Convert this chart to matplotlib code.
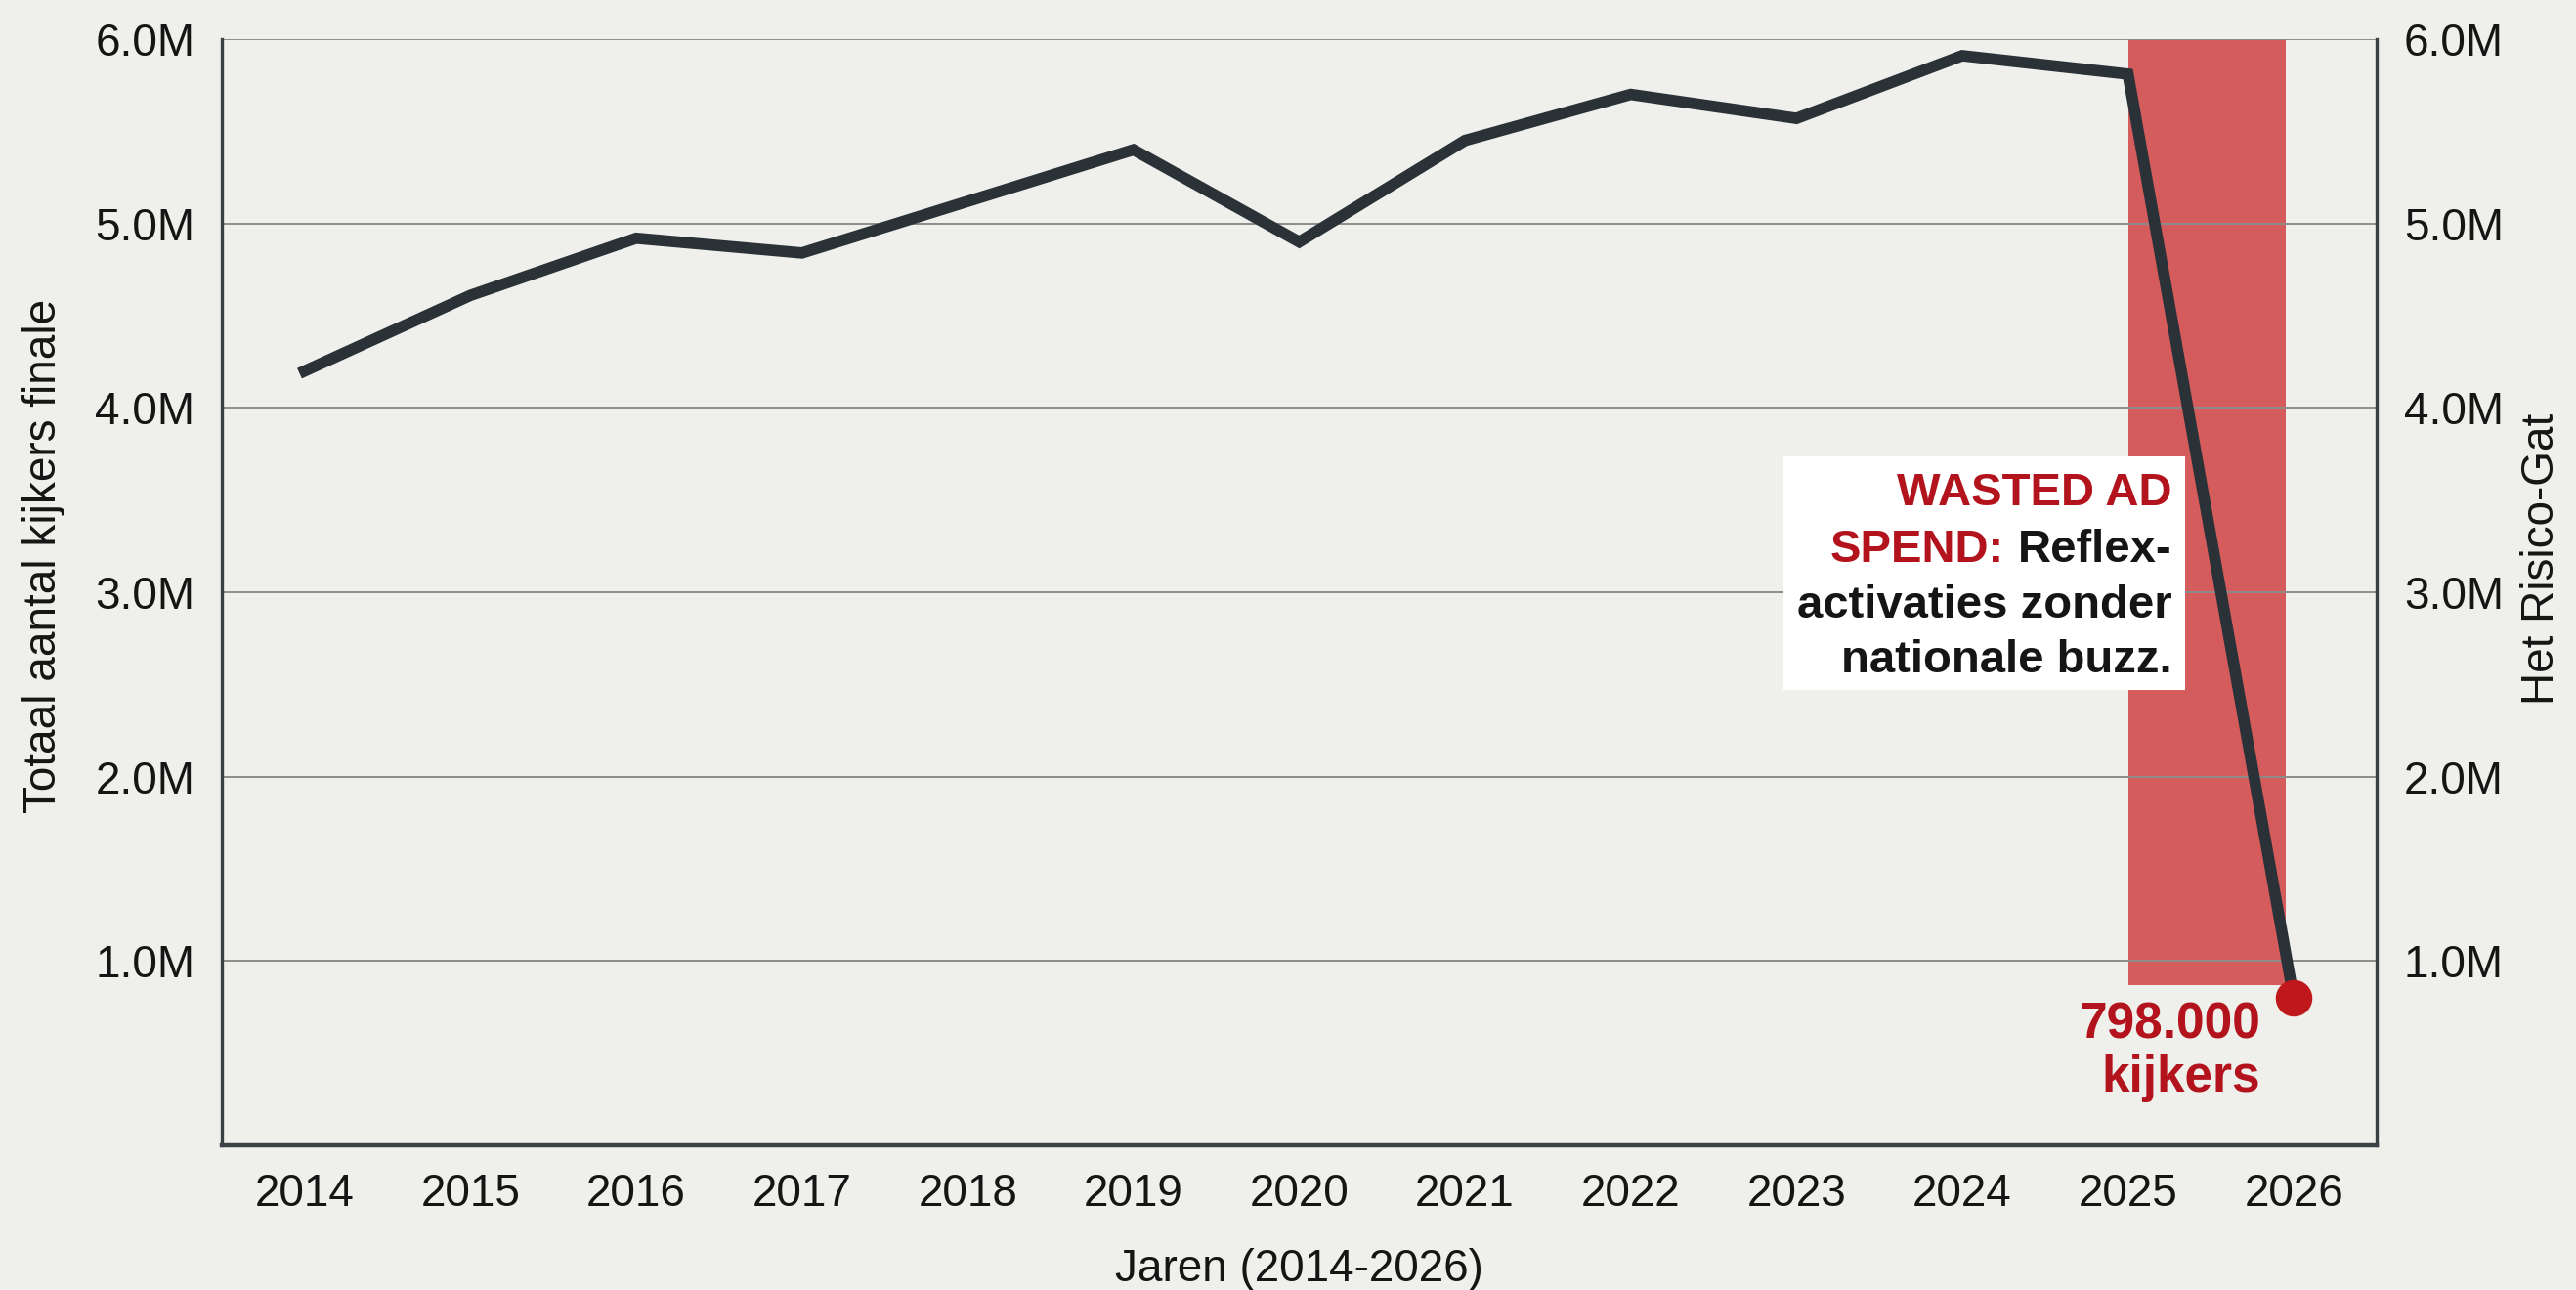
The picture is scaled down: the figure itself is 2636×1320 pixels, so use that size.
import matplotlib.pyplot as plt
from matplotlib.patches import Rectangle
from matplotlib.transforms import Bbox

plt.rcParams['font.family'] = ['Liberation Sans', 'DejaVu Sans']

# === Data (kijkers in miljoenen) ===
jaren = [2014, 2015, 2016, 2017, 2018, 2019, 2020, 2021, 2022, 2023, 2024, 2025, 2026]
kijkers = [4.20, 4.61, 4.92, 4.84, 5.12, 5.40, 4.90, 5.45, 5.70, 5.57, 5.91, 5.81, 0.798]

y_ticks = [1, 2, 3, 4, 5, 6]
y_labels = ['1.0M', '2.0M', '3.0M', '4.0M', '5.0M', '6.0M']

# risico-gat (rode band)
gat_x = [2025, 2025.95]
gat_onder = 0.87
gat_boven = 6.0

# === Kleuren ===
bg = '#eff0eb'
lijn_kleur = '#2a3238'
rood = '#b3131c'
band_kleur = '#ce373a'
tekst = '#151515'

fig = plt.figure(figsize=(13.18, 6.6), dpi=200, facecolor=bg)
ax = fig.add_axes([0.0861, 0.1121, 0.8365, 0.8576])
ax.set_facecolor(bg)

# rode band
ax.fill_between(gat_x, gat_onder, gat_boven, color=band_kleur, alpha=0.8, lw=0, zorder=1)

# lijn + eindpunt
ax.plot(jaren, kijkers, color=lijn_kleur, lw=4.2, solid_joinstyle='miter', zorder=4)
ax.plot(jaren[-1], kijkers[-1], 'o', ms=12.5, color='#c0171d', zorder=6)

ax.set_xlim(2013.5, 2026.5)
ax.set_ylim(0, 6)
ax.set_xticks(jaren)
ax.set_xticklabels([str(j) for j in jaren])
ax.set_yticks(y_ticks)
ax.set_yticklabels(y_labels)
ax.grid(axis='y', color='#8c8c8c', lw=0.7)
ax.tick_params(length=0, pad=10, labelsize=16.5, labelcolor=tekst)

for s in ['top', 'right']:
    ax.spines[s].set_visible(False)
ax.spines['left'].set_color('#3a4046')
ax.spines['left'].set_linewidth(1.2)
ax.spines['bottom'].set_color('#3a4046')
ax.spines['bottom'].set_linewidth(1.6)

ax.set_xlabel('Jaren (2014-2026)', fontsize=16.5, color=tekst)
ax.xaxis.set_label_coords(0.5, -0.093)
ax.set_ylabel('Totaal aantal kijkers finale', fontsize=16.5, color=tekst)
ax.yaxis.set_label_coords(-0.0726, 0.533)

# rechter as
ax2 = ax.twinx()
ax2.set_ylim(0, 6)
ax2.set_yticks(y_ticks)
ax2.set_yticklabels(y_labels)
ax2.tick_params(length=0, pad=10, labelsize=16.5, labelcolor=tekst)
for s in ['top', 'left', 'bottom']:
    ax2.spines[s].set_visible(False)
ax2.spines['right'].set_color('#3a4046')
ax2.spines['right'].set_linewidth(1.2)
ax2.set_ylabel('Het Risico-Gat', fontsize=16.5, color=tekst)
ax2.yaxis.set_label_coords(1.0667, 0.53)

# === Annotatie ===
tx = 2025.265
kw = dict(fontsize=17, fontweight='bold', ha='right', va='baseline', zorder=8)
t1 = ax.text(tx, 3.471, 'WASTED AD', color=rood, **kw)
t2 = ax.text(tx, 3.164, 'Reflex-', color=tekst, **kw)
t2b = ax.annotate('SPEND:', xy=(0, 0), xycoords=t2, xytext=(-5, 0),
                  textcoords='offset points', ha='right', va='bottom',
                  color=rood, fontsize=17, fontweight='bold', zorder=8)
t3 = ax.text(tx, 2.862, 'activaties zonder', color=tekst, **kw)
t4 = ax.text(tx, 2.565, 'nationale buzz.', color=tekst, **kw)

# witte achtergrond achter de tekst
fig.canvas.draw()
r = fig.canvas.get_renderer()
bb = Bbox.union([t.get_window_extent(r) for t in [t1, t2, t2b, t3, t4]])
inv = ax.transData.inverted()
(x0, y0) = inv.transform((bb.x0 - 14, bb.y0 - 8))
(x1, y1) = inv.transform((bb.x1 + 14, bb.y1 + 16))
ax.add_patch(Rectangle((x0, y0), x1 - x0, y1 - y0, facecolor='white', edgecolor='none', zorder=7))

ax.text(2025.80, 0.583, '798.000', color=rood, fontsize=18.5, fontweight='bold',
        ha='right', va='baseline', zorder=8)
ax.text(2025.80, 0.29, 'kijkers', color=rood, fontsize=18.5, fontweight='bold',
        ha='right', va='baseline', zorder=8)

fig.savefig('out.png', dpi=200, facecolor=bg)
